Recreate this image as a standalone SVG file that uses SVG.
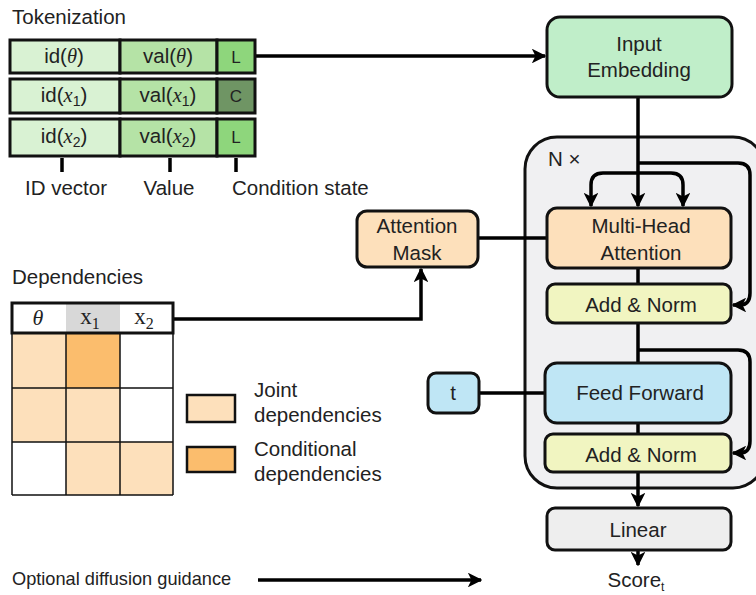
<svg xmlns="http://www.w3.org/2000/svg" width="756" height="595" viewBox="0 0 756 595">
<defs>
<marker id="ah" viewBox="0 0 10 10" refX="9" refY="5" markerWidth="4.2" markerHeight="4.2" orient="auto" markerUnits="strokeWidth">
<path d="M0,0 L10,5 L0,10 L2.5,5 z" fill="#000"/>
</marker>
<style>
text{font-family:"Liberation Sans",Arial,sans-serif;fill:#222;}
.lbl{font-size:20.5px;}
.c{text-anchor:middle;}
.box{stroke:#111;stroke-width:3;}
.cell{stroke:#111;stroke-width:3;}
.ln{fill:none;stroke:#000;stroke-width:3.5;}
.ar{fill:none;stroke:#000;stroke-width:3.5;marker-end:url(#ah);}
.m{font-family:"Liberation Serif","DejaVu Serif",serif;font-style:italic;}
.s{font-family:"Liberation Serif","DejaVu Serif",serif;}
.grid{stroke:#111;stroke-width:1.5;}
</style>
</defs>
<rect width="756" height="595" fill="#fff"/>

<!-- Transformer container -->
<g id="nx-block">
<rect x="525" y="137" width="240" height="351" rx="32" fill="#f0f0f2" stroke="#111" stroke-width="3"/>
<text x="548" y="166" class="lbl">N ×</text>
</g>

<!-- Connectors -->
<g id="connectors">
<path class="ar" d="M255,56 H545"/>
<path class="ar" d="M638,97 V206"/>
<path class="ar" d="M638,173 H603 Q591,173 591,185 V206"/>
<path class="ar" d="M638,173 H671 Q683,173 683,185 V206"/>
<path class="ar" d="M638,163 H738 Q750,163 750,175 V293 Q750,305 740,305 H733"/>
<path class="ln" d="M638,268 V284"/>
<path class="ln" d="M638,323 V363"/>
<path class="ar" d="M638,350 H738 Q750,350 750,362 V441 Q750,453 740,453 H733"/>
<path class="ln" d="M638,423 V434"/>
<path class="ar" d="M638,472 V506"/>
<path class="ar" d="M638,550 V565"/>
<path class="ln" d="M478,238 H547"/>
<path class="ln" d="M479,393 H545"/>
<path class="ar" d="M173,319 H421 V269"/>
<path class="ar" d="M258,580 H481"/>
<path class="ln" d="M62,158 V172 M170,158 V172 M236,158 V172"/>
</g>

<!-- Tokenization -->
<g id="tokenization">
<text x="12" y="24" class="lbl">Tokenization</text>
<g id="token-theta">
<rect x="10" y="40" width="110" height="33" fill="#d9f2d3" class="cell"/>
<rect x="120" y="40" width="97" height="33" fill="#b5e3a6" class="cell"/>
<rect x="217" y="40" width="38" height="33" fill="#8ed67c" class="cell"/>
<text x="64" y="63" class="lbl c">id(<tspan class="m">θ</tspan>)</text>
<text x="168" y="63" class="lbl c">val(<tspan class="m">θ</tspan>)</text>
<text x="236" y="63" font-size="17" class="c">L</text>
</g>
<g id="token-x1">
<rect x="10" y="79" width="110" height="34" fill="#d9f2d3" class="cell"/>
<rect x="120" y="79" width="97" height="34" fill="#b5e3a6" class="cell"/>
<rect x="217" y="79" width="38" height="34" fill="#6f9564" class="cell"/>
<text x="64" y="102" class="lbl c">id(<tspan class="m">x</tspan><tspan font-size="14" dy="4">1</tspan><tspan dy="-4">)</tspan></text>
<text x="168" y="102" class="lbl c">val(<tspan class="m">x</tspan><tspan font-size="14" dy="4">1</tspan><tspan dy="-4">)</tspan></text>
<text x="236" y="102" font-size="17" class="c">C</text>
</g>
<g id="token-x2">
<rect x="10" y="119" width="110" height="37" fill="#d9f2d3" class="cell"/>
<rect x="120" y="119" width="97" height="37" fill="#b5e3a6" class="cell"/>
<rect x="217" y="119" width="38" height="37" fill="#8ed67c" class="cell"/>
<text x="64" y="143" class="lbl c">id(<tspan class="m">x</tspan><tspan font-size="14" dy="4">2</tspan><tspan dy="-4">)</tspan></text>
<text x="168" y="143" class="lbl c">val(<tspan class="m">x</tspan><tspan font-size="14" dy="4">2</tspan><tspan dy="-4">)</tspan></text>
<text x="236" y="143" font-size="17" class="c">L</text>
</g>
<text x="66" y="195" class="lbl c">ID vector</text>
<text x="169" y="195" class="lbl c">Value</text>
<text x="232" y="195" class="lbl">Condition state</text>
</g>

<!-- Dependencies -->
<g id="dependencies">
<text x="12" y="284" class="lbl">Dependencies</text>
<rect x="12" y="333" width="54" height="55" fill="#fde0bb"/>
<rect x="66" y="333" width="54" height="55" fill="#fbbd6d"/>
<rect x="120" y="333" width="53" height="55" fill="#fff"/>
<rect x="12" y="388" width="54" height="54" fill="#fde0bb"/>
<rect x="66" y="388" width="54" height="54" fill="#fde0bb"/>
<rect x="120" y="388" width="53" height="54" fill="#fff"/>
<rect x="12" y="442" width="54" height="53" fill="#fff"/>
<rect x="66" y="442" width="54" height="53" fill="#fde0bb"/>
<rect x="120" y="442" width="53" height="53" fill="#fde0bb"/>
<path class="grid" d="M66,333 V495 M120,333 V495 M12,388 H173 M12,442 H173 M12,333 V495 M173,333 V495 M12,495 H173"/>
<rect x="66" y="303" width="54" height="30" fill="#d8d8d8"/>
<rect x="12" y="303" width="161" height="30" fill="none" stroke="#111" stroke-width="3"/>
<text x="38" y="325" font-size="22" class="m c">θ</text>
<text x="90" y="324" font-size="23" class="s c">x<tspan font-size="16" dy="5">1</tspan></text>
<text x="144" y="324" font-size="23" class="s c">x<tspan font-size="16" dy="5">2</tspan></text>
</g>

<g id="legend">
<rect x="187" y="395" width="48" height="27" fill="#fde0bb" stroke="#111" stroke-width="2.5"/>
<rect x="187" y="447" width="48" height="25" fill="#fbbd6d" stroke="#111" stroke-width="2.5"/>
<text x="254" y="397" class="lbl">Joint</text>
<text x="254" y="422" class="lbl">dependencies</text>
<text x="254" y="456" class="lbl">Conditional</text>
<text x="254" y="481" class="lbl">dependencies</text>
</g>

<!-- Nodes -->
<g id="input-embedding">
<rect x="547" y="17" width="185" height="80" rx="13" fill="#c0eec9" class="box"/>
<text x="639" y="51" class="lbl c">Input</text>
<text x="639" y="77" class="lbl c">Embedding</text>
</g>
<g id="attention-mask">
<rect x="357" y="211" width="121" height="56" rx="10" fill="#fde0bb" class="box"/>
<text x="417" y="233" class="lbl c">Attention</text>
<text x="417" y="260" class="lbl c">Mask</text>
</g>
<g id="multi-head-attention">
<rect x="547" y="208" width="184" height="60" rx="10" fill="#fde0bb" class="box"/>
<text x="641" y="233" class="lbl c">Multi-Head</text>
<text x="641" y="260" class="lbl c">Attention</text>
</g>
<g id="add-norm-1">
<rect x="547" y="284" width="184" height="39" rx="8" fill="#f1f5c1" class="box"/>
<text x="641" y="312" class="lbl c">Add &amp; Norm</text>
</g>
<g id="t-node">
<rect x="428" y="373" width="51" height="40" rx="8" fill="#bfe6f5" class="box"/>
<text x="453" y="400" class="lbl c">t</text>
</g>
<g id="feed-forward">
<rect x="545" y="363" width="186" height="60" rx="12" fill="#bfe6f5" class="box"/>
<text x="640" y="400" class="lbl c">Feed Forward</text>
</g>
<g id="add-norm-2">
<rect x="545" y="434" width="186" height="38" rx="8" fill="#f1f5c1" class="box"/>
<text x="641" y="462" class="lbl c">Add &amp; Norm</text>
</g>
<g id="linear">
<rect x="547" y="508" width="184" height="42" rx="8" fill="#eeeeee" class="box"/>
<text x="638" y="537" class="lbl c">Linear</text>
</g>
<g id="score">
<text x="636" y="587" class="lbl c">Score<tspan font-size="12" dy="4">t</tspan></text>
</g>
<g id="guidance">
<text x="12" y="585" font-size="18.2">Optional diffusion guidance</text>
</g>
</svg>
